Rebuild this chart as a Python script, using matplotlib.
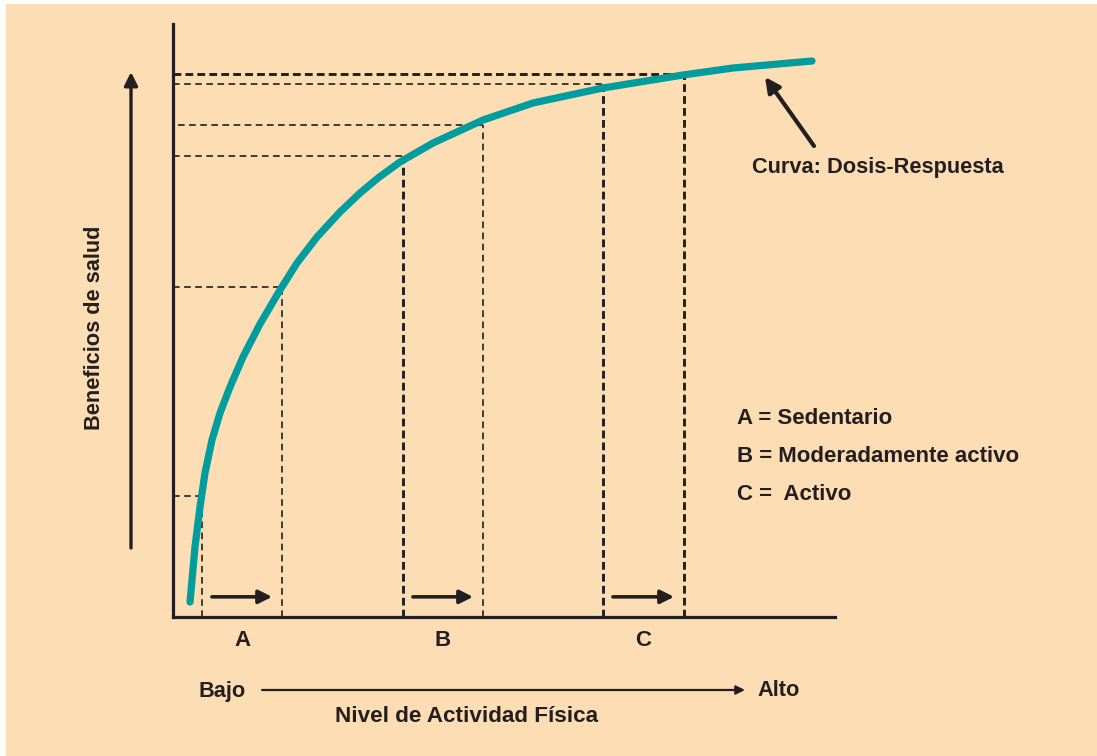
import matplotlib
matplotlib.use("Agg")
import matplotlib.pyplot as plt
from matplotlib.patches import Rectangle, FancyArrowPatch

# ---------------- data ----------------
activity = [2.57, 3.32, 4.08, 4.83, 5.89, 7.10, 8.61, 10.57, 13.14, 16.16, 18.73, 21.75,
            25.23, 28.25, 30.97, 34.29, 39.27, 46.83, 54.38, 64.95, 77.04, 84.59, 89.73, 96.53]
benefit = [2.53, 11.80, 18.55, 24.28, 29.85, 34.40, 38.79, 43.84, 49.41, 55.14, 59.70, 64.08,
           68.30, 71.50, 74.03, 76.73, 79.93, 83.81, 86.68, 89.21, 91.40, 92.58, 93.09, 93.76]

categories = ["A", "B", "C"]
category_names = ["Sedentario", "Moderadamente activo", "Activo"]
level_start_x = [4.38, 34.74, 64.95]
level_start_y = [20.40, 77.74, 89.83]
level_end_x = [16.47, 46.83, 77.19]
level_end_y = [55.65, 82.97, 91.51]

# ---------------- style ----------------
W, H = 1097, 756
PEACH = "#FDDDB3"
DARK = "#231F20"
TEAL = "#009C9E"
FONT = ["Liberation Sans", "DejaVu Sans"]
plt.rcParams["font.family"] = FONT
plt.rcParams["lines.scale_dashes"] = False

fig = plt.figure(figsize=(W / 100, H / 100), dpi=100)
fig.patch.set_facecolor("white")
fig.patches.append(Rectangle((6 / W, 0), 1 - 6 / W, 1 - 4 / H, transform=fig.transFigure,
                             facecolor=PEACH, edgecolor="none", zorder=-10))

def fx(px):
    return px / W

def fy(py):
    return 1 - py / H

ax = fig.add_axes([fx(173), fy(617), (835 - 173) / W, (617 - 24) / H])
ax.set_facecolor("none")
ax.set_xlim(0, 100)
ax.set_ylim(0, 100)
for s in ["top", "right"]:
    ax.spines[s].set_visible(False)
for s in ["left", "bottom"]:
    ax.spines[s].set_linewidth(2.3)
    ax.spines[s].set_color(DARK)
ax.set_xticks([])
ax.set_yticks([])

thin = dict(color=DARK, lw=1.2, ls=(0, (4.8, 3.2)))
thick = dict(color=DARK, lw=2.1, ls=(0, (5.6, 3.0)))
# vertical / horizontal style per level (start, end)
v_styles = [(thin, thin), (thick, thin), (thick, thick)]
h_styles = [(thin, thin), (thin, thin), (thin, thick)]
h_start = [(0, 0), (0, 0.75), (0, 0)]

for i in range(len(categories)):
    xs = [level_start_x[i], level_end_x[i]]
    ys = [level_start_y[i], level_end_y[i]]
    for j in range(2):
        ax.plot([xs[j], xs[j]], [0, ys[j]], **v_styles[i][j], zorder=2)
        ax.plot([h_start[i][j], xs[j]], [ys[j], ys[j]], **h_styles[i][j], zorder=2)
    # small arrow inside each range
    ax.annotate("", xy=(xs[1] - 1.5, 3.4), xytext=(xs[0] + 1.5, 3.4),
                arrowprops=dict(arrowstyle="-|>", lw=2.6, color=DARK,
                                mutation_scale=20, shrinkA=0, shrinkB=0))
    # category label
    ax.text((xs[0] + xs[1]) / 2, -4.0, categories[i], ha="center", va="center",
            fontsize=16, fontweight="bold", color=DARK, clip_on=False)

# dose-response curve
ax.plot(activity, benefit, color=TEAL, lw=5.2, solid_capstyle="round",
        solid_joinstyle="round", zorder=3)

# Curve label + arrow
fig.text(fx(752), fy(168), "Curva: Dosis-Respuesta", ha="left", va="center",
         fontsize=15.7, fontweight="bold", color=DARK)
fig.patches.append(FancyArrowPatch(
    (fx(814), fy(146)), (fx(765), fy(77)), transform=fig.transFigure,
    arrowstyle="-|>", mutation_scale=22, lw=3.0, color=DARK, shrinkA=0, shrinkB=0))

# legend text
leg_y = [418, 457, 494]
for i in range(len(categories)):
    sep = " =  " if i == 2 else " = "
    fig.text(fx(737), fy(leg_y[i]), categories[i] + sep + category_names[i],
             ha="left", va="center", fontsize=16.0, fontweight="bold", color=DARK)

# y axis label with big arrow
fig.patches.append(FancyArrowPatch(
    (fx(131), fy(548)), (fx(131), fy(72)), transform=fig.transFigure,
    arrowstyle="-|>", mutation_scale=20, lw=2.4, color=DARK, shrinkA=0, shrinkB=0))
fig.text(fx(95), fy(328), "Beneficios de salud", rotation=90, ha="center", va="center",
         fontsize=15.7, fontweight="bold", color=DARK)

# x axis label with Bajo -> Alto
fig.text(fx(222), fy(691), "Bajo", ha="center", va="center",
         fontsize=15.7, fontweight="bold", color=DARK)
fig.text(fx(779), fy(691), "Alto", ha="center", va="center",
         fontsize=15.7, fontweight="bold", color=DARK)
fig.patches.append(FancyArrowPatch(
    (fx(262), fy(690)), (fx(745), fy(690)), transform=fig.transFigure,
    arrowstyle="-|>", mutation_scale=13, lw=1.6, color=DARK, shrinkA=0, shrinkB=0))
fig.text(fx(467), fy(716), "Nivel de Actividad Física", ha="center", va="center",
         fontsize=16.2, fontweight="bold", color=DARK)

fig.savefig("out.png", dpi=100, facecolor=fig.get_facecolor())
